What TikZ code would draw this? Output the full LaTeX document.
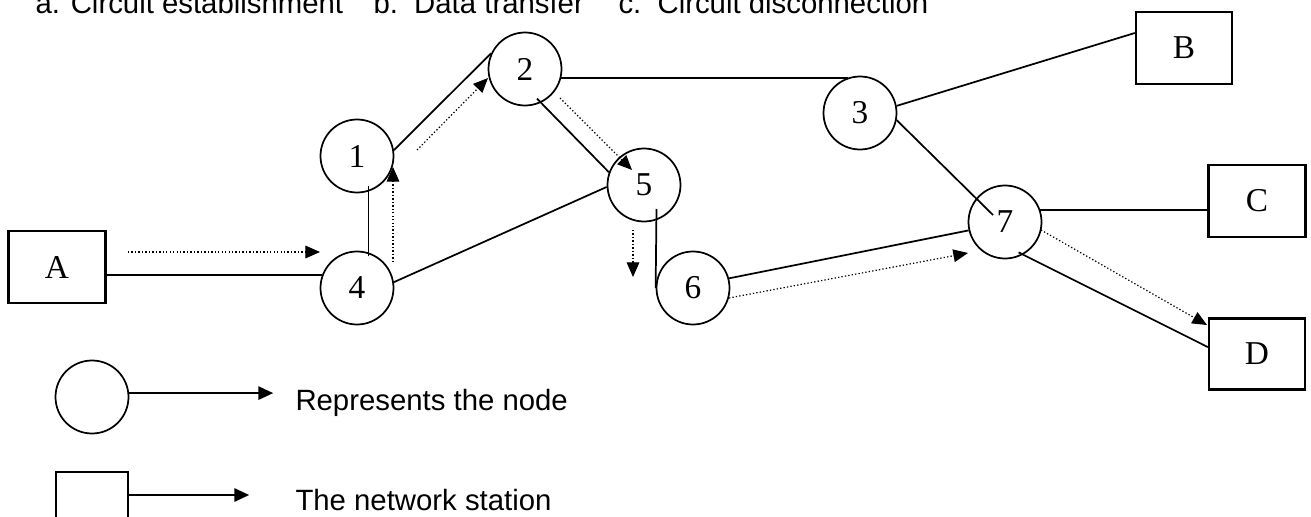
\documentclass[tikz,border=0pt]{standalone}
\usepackage{fontspec}
\setmainfont{Liberation Serif}
\newfontfamily\legendfont{Liberation Sans}
\usetikzlibrary{arrows.meta,calc}

\tikzset{every picture/.style={line width=0.75pt}}
\tikzset{
  hub/.style={circle, draw, line width=1.3pt, minimum size=54.75pt, inner sep=0pt, font=\fontsize{25}{30}\selectfont},
  station/.style={rectangle, draw, line width=1.7pt, minimum width=72.75pt, minimum height=54pt, inner sep=0pt, font=\fontsize{25}{30}\selectfont},
  link/.style={line width=1.3pt},
  flow/.style={line width=0.9pt, dash pattern=on 1pt off 1.6pt, -{Triangle[length=11pt,width=9.5pt]}},
  pointer/.style={line width=1.1pt, -{Triangle[length=11pt,width=10pt]}},
  caption/.style={anchor=base west, inner sep=0pt, font=\legendfont\fontsize{22}{26}\selectfont},
}

\begin{document}
\begin{tikzpicture}[x=0.75pt,y=0.75pt,yscale=-1,xscale=1]
    \useasboundingbox (0,0) rectangle (1311,517);

    % Text Node
    \draw (35,14) node [caption] (phasea) {a. Circuit establishment};
    % Text Node
    \draw (373,14) node [caption] (phaseb) {b.\ \ Data transfer};
    % Text Node
    \draw (618,14) node [caption] (phasec) {c.\ \ Circuit disconnection};

    %Shape: Circle
    \draw (357,156) node [hub] (n1) {1};
    \draw (525,69) node [hub] (n2) {2};
    \draw (860,113) node [hub] (n3) {3};
    \draw (357,288) node [hub] (n4) {4};
    \draw (644,185) node [hub] (n5) {5};
    \draw (693,288) node [hub] (n6) {6};
    \draw (1005,222) node [hub] (n7) {7};

    %Shape: Rectangle
    \draw (57,267) node [station] (A) {A};
    \draw (1184,48) node [station, minimum width=72pt] (B) {B};
    \draw (1257,201) node [station] (C) {C};
    \draw (1257,354) node [station, minimum width=72pt, minimum height=53.25pt] (D) {D};

    %Straight Lines
    \draw [link] (A.east |- n4.160) -- (n4.160);
    \draw [link] ($(n4.72)+(0,4)$) -- ($(n1.-72)+(0,-6)$);
    \draw [link] (n1.9) -- (n2.155);
    \draw [link] (n2.-14) -- (n2.-14 -| n3.108);
    \draw [link] ($(n2.-68)+(-2,-5)$) -- (n5.160);
    \draw [link] (n4.9) -- (n5.183);
    \draw [link] ($(n5.center)+(12.5,24)$) -- (n6.west);
    \draw [link] (n6.15) -- (n7.193);
    \draw [link] (n3.11) -- (B.163);
    \draw [link] (n3.-11) -- ($(n7.center)+(-12,-7)$);
    \draw [link] (n7.19) -- (n7.19 -| C.west);
    \draw [link] ($(n7.-67)+(-1,-4)$) -- (D.172);

    %Dotted Arrows
    \coordinate (f1s) at (128,252);  \coordinate (f1e) at (320,252);
    \coordinate (f2s) at (393,262);  \coordinate (f2e) at (393,167);
    \coordinate (f3s) at (417,150);  \coordinate (f3e) at (488,78);
    \coordinate (f4s) at (560,98);   \coordinate (f4e) at (632,170);
    \coordinate (f5s) at (633,230);  \coordinate (f5e) at (633,277);
    \coordinate (f6s) at (729,298);  \coordinate (f6e) at (968,253);
    \coordinate (f7s) at (1041,230); \coordinate (f7e) at (1207,325);
    \draw [flow] (f1s) -- (f1e);
    \draw [flow] (f2s) -- (f2e);
    \draw [flow] (f3s) -- (f3e);
    \draw [flow] (f4s) -- (f4e);
    \draw [flow] (f5s) -- (f5e);
    \draw [flow] (f6s) -- (f6e);
    \draw [flow] (f7s) -- (f7e);

    %Legend
    \draw (92,397) node [hub] (keyhub) {};
    \draw (92,508) node [station, minimum width=54pt] (keystation) {};
    \draw [pointer] (keyhub.6) -- ++(144,0);
    \draw [pointer] ($(keystation.east)+(0,-13)$) -- ++(120,0);
    % Text Node
    \draw (295,410) node [caption] (keyhubtext) {Represents the node};
    % Text Node
    \draw (295,510) node [caption] (keystationtext) {The network station};

\end{tikzpicture}
\end{document}
